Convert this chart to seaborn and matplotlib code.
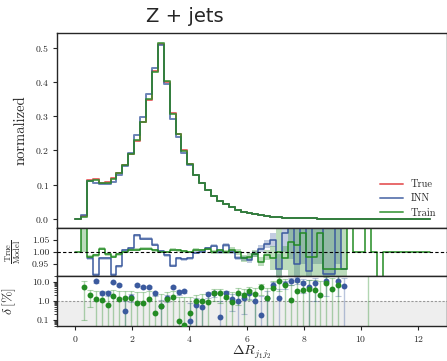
import numpy as np
import pandas as pd
import matplotlib
matplotlib.use('Agg')
import matplotlib.pyplot as plt
import seaborn as sns
from matplotlib.ticker import FixedLocator, FormatStrFormatter, NullFormatter


# Data (60 bins between 0 and 12.4)

nan = np.nan
edges = np.linspace(0, 12.4, 61)

true_vals = [0, 0.008, 0.112, 0.117, 0.106, 0.107, 0.120, 0.135, 0.158, 0.190,
             0.228, 0.283, 0.348, 0.432, 0.512, 0.400, 0.308, 0.248, 0.200, 0.160,
             0.128, 0.106, 0.084, 0.067, 0.053, 0.042, 0.033, 0.026, 0.021, 0.016,
             0.013, 0.010, 0.007, 0.005, 0.004, 0.003, 0.0025, 0.002, 0.0015, 0.001,
             0.0008, 0.0006, 0.0004, 0.0003, 0.0002, 0.00015, 0.0001, 0.00005, 0, 0,
             0, 0, 0, 0, 0, 0, 0, 0, 0, 0]
inn_vals = [0, 0.012, 0.110, 0.104, 0.102, 0.103, 0.108, 0.127, 0.155, 0.193,
            0.245, 0.298, 0.364, 0.440, 0.507, 0.395, 0.293, 0.240, 0.193, 0.158,
            0.127, 0.105, 0.084, 0.067, 0.053, 0.042, 0.033, 0.026, 0.021, 0.016,
            0.013, 0.010, 0.007, 0.005, 0.004, 0.003, 0.0025, 0.002, 0.0015, 0.001,
            0.0008, 0.0006, 0.0004, 0.0003, 0.0002, 0.00015, 0.0001, 0.00005, 0, 0,
            0, 0, 0, 0, 0, 0, 0, 0, 0, 0]
train_vals = [0, 0.004, 0.111, 0.113, 0.106, 0.106, 0.115, 0.133, 0.156, 0.188,
              0.229, 0.283, 0.350, 0.430, 0.514, 0.403, 0.305, 0.247, 0.199, 0.160,
              0.128, 0.106, 0.084, 0.067, 0.053, 0.042, 0.033, 0.026, 0.021, 0.016,
              0.013, 0.010, 0.007, 0.005, 0.004, 0.003, 0.0025, 0.002, 0.0015, 0.001,
              0.0008, 0.0006, 0.0004, 0.0003, 0.0002, 0.00015, 0.0001, 0.00005, 0, 0,
              0, 0, 0, 0, 0, 0, 0, 0, 0, 0]

ratio_inn = [nan, nan, 0.973, 0.905, 0.973, 0.973, 0.905, 0.94, 1.007, 1.016,
             1.07, 1.055, 1.055, 1.03, 1.003, 0.987, 0.943, 0.973, 0.97, 0.973,
             0.997, 1.0, 1.016, 1.027, 1.0, 1.03, 1.0, 0.975, 0.973, 0.966,
             0.993, 1.014, 1.034, 1.05, 0.93, 1.08, 1.12, 0.95, 1.15, 0.92,
             1.15, 1.15, 0.91, 0.91, 1.15, 0.93, nan, nan, nan, nan,
             nan, nan, nan, nan, nan, nan, nan, nan, nan, nan]
ratio_inn_err = [nan, nan, 0.006, 0.006, 0.006, 0.006, 0.006, 0.006, 0.006, 0.006,
                 0.006, 0.006, 0.006, 0.006, 0.006, 0.006, 0.006, 0.006, 0.006, 0.006,
                 0.006, 0.006, 0.006, 0.007, 0.007, 0.008, 0.008, 0.009, 0.010, 0.012,
                 0.013, 0.015, 0.018, 0.03, 0.06, 0.08, 0.15, 0.15, 0.2, 0.2,
                 0.2, 0.2, 0.2, 0.2, 0.2, 0.2, nan, nan, nan, nan,
                 nan, nan, nan, nan, nan, nan, nan, nan, nan, nan]
ratio_train = [1.0, 1.3, 0.98, 0.987, 1.014, 0.99, 0.98, 0.99, 1.0, 1.01,
               1.01, 1.013, 1.013, 1.007, 1.0, 1.0, 1.01, 1.007, 1.003, 1.0,
               1.01, 1.007, 1.013, 1.0, 1.007, 1.0, 1.01, 1.0, 0.973, 0.98,
               0.993, 0.96, 0.987, 0.973, 1.0, 0.973, 1.04, 1.03, 1.08, 0.98,
               0.98, 1.08, 0.93, 0.93, 0.93, 0.93, 1.3, 1.0, 1.0, 1.3,
               1.0, 0.8, 1.0, 1.0, 1.0, 1.0, 1.0, 1.0, 1.0, 1.0]
ratio_train_err = [0, 0.3, 0.006, 0.006, 0.006, 0.006, 0.006, 0.006, 0.006, 0.006,
                   0.006, 0.006, 0.006, 0.006, 0.006, 0.006, 0.006, 0.006, 0.006, 0.006,
                   0.006, 0.006, 0.006, 0.007, 0.007, 0.01, 0.01, 0.012, 0.013, 0.015,
                   0.015, 0.02, 0.02, 0.05, 0.2, 0.05, 0.2, 0.2, 0.2, 0.2,
                   0.2, 0.2, 0.2, 0.2, 0.2, 0.2, 0, 0, 0, 0,
                   0, 0, 0, 0, 0, 0, 0, 0, 0, 0]

delta_inn = [nan, nan, nan, 11, 2.7, 2.6, 9.6, 7.2, 0.3, 1.6,
             6.9, 5.4, 5.3, 2.5, 0.55, 1.5, 5.6, 2.9, 3.2, 0.085,
             0.6, 0.48, 2.3, 2.6, 0.145, 2.5, 1.3, 1.0, 1.4, 2.6,
             1.0, 0.18, 1.5, 7.2, 1.5, 7.8, 11.8, 12.8, 8.5, 5.6,
             9.0, nan, 10.8, nan, 11.8, 6.1, nan, nan, nan, nan,
             nan, nan, nan, nan, nan, nan, nan, nan, nan, nan]
delta_inn_err = [nan, nan, nan, 1.5, 0.7, 0.7, 1.0, 0.8, 0.7, 0.7,
                 0.8, 0.7, 0.7, 0.6, 0.6, 0.6, 0.7, 0.7, 0.7, 0.7,
                 0.8, 0.8, 0.8, 0.9, 0.9, 1.0, 1.0, 1.1, 1.2, 1.3,
                 1.5, 1.7, 2.0, 2.5, 3.0, 3.5, 4.5, 5.0, 6.0, 7.0,
                 8.0, nan, 9.0, nan, 10.0, 10.0, nan, nan, nan, nan,
                 nan, nan, nan, nan, nan, nan, nan, nan, nan, nan]
delta_train = [nan, 5.6, 2.1, 1.35, 1.1, 0.62, 1.85, 1.35, 1.5, 1.5,
               0.82, 0.82, 1.25, 0.22, 0.55, 1.3, 1.7, 0.085, 0.057, 0.24,
               1.0, 1.05, 0.88, 2.6, 2.5, 1.7, 0.88, 2.6, 2.1, 3.4,
               2.3, 5.2, 1.4, 4.8, 11.5, 7.0, 1.2, 3.2, 4.0, 4.4,
               4.0, 2.1, 8.5, 4.4, 7.2, nan, nan, nan, nan, 60,
               nan, nan, nan, nan, nan, nan, nan, nan, nan, nan]
delta_train_err = [nan, 5.5, 1.6, 2.0, 2.0, 2.2, 2.0, 2.0, 2.0, 2.0,
                   2.0, 2.0, 2.0, 1.8, 1.8, 1.8, 1.8, 1.6, 1.5, 1.4,
                   1.1, 1.3, 1.6, 1.6, 1.7, 1.8, 2.0, 2.0, 2.1, 2.2,
                   2.4, 3.0, 3.5, 7.0, 8.0, 8.0, 6.0, 6.5, 7.0, 8.0,
                   9.0, 10.0, 11.0, 12.0, 13.0, nan, nan, nan, nan, 100,
                   nan, nan, nan, nan, nan, nan, nan, nan, nan, nan]

labels = ['True', 'INN', 'Train']
colors = {'True': '#e0393b', 'INN': '#3b5a9e', 'Train': '#238b23'}


sns.set_style('ticks')
plt.rcParams['font.family'] = 'serif'
plt.rcParams['font.serif'] = ['cmr10', 'DejaVu Serif']
plt.rcParams['mathtext.fontset'] = 'cm'
plt.rcParams['axes.formatter.use_mathtext'] = True
plt.rcParams['axes.unicode_minus'] = False

fig = plt.figure(figsize=(4.47, 3.61), dpi=100)
ax = fig.add_axes([0.1275, 0.3684, 0.8725, 0.5402])
axr = fig.add_axes([0.1275, 0.2355, 0.8725, 0.1329], sharex=ax)
axd = fig.add_axes([0.1275, 0.0970, 0.8725, 0.1385], sharex=ax)

# main histogram panel
frames = []
for name, vals in zip(labels, [true_vals, inn_vals, train_vals]):
    frames.append(pd.DataFrame({'x': edges,
                                'y': list(vals) + [vals[-1]],
                                'model': name}))
df = pd.concat(frames, ignore_index=True)
sns.lineplot(data=df, x='x', y='y', hue='model', palette=colors,
             estimator=None, drawstyle='steps-post', lw=1.4, alpha=0.75, ax=ax)
ax.legend(loc='lower right', frameon=False, fontsize=7.5, handlelength=2.2,
          labelspacing=0.45, borderaxespad=0.6)
ax.set_xlim(-0.63, 13.0)
ax.set_ylim(-0.027, 0.543)
ax.set_xlabel('')
ax.set_ylabel('normalized', fontsize=10.5)
ax.yaxis.set_label_coords(-0.075, 0.5)
ax.tick_params(axis='x', bottom=False, labelbottom=False)

# ratio panel
for name, r, e in [('INN', ratio_inn, ratio_inn_err),
                   ('Train', ratio_train, ratio_train_err)]:
    r = np.array(r + [r[-1]], dtype=float)
    e = np.array(e + [e[-1]], dtype=float)
    axr.fill_between(edges, r - e, r + e, step='post', color=colors[name],
                     alpha=0.3, lw=0)
    axr.step(edges, r, where='post', color=colors[name], lw=1.1)
axr.axhline(1.0, color='black', ls=(0, (3, 2)), lw=0.8, zorder=10)
axr.set_ylim(0.9, 1.1)
axr.yaxis.set_major_locator(FixedLocator([0.95, 1.0, 1.05]))
axr.yaxis.set_major_formatter(FormatStrFormatter('%.2f'))
axr.set_ylabel(r'$\dfrac{\mathrm{True}}{\mathrm{Model}}$', fontsize=6)
axr.yaxis.set_label_coords(-0.088, 0.5)
axr.tick_params(axis='x', bottom=False, labelbottom=False)

# relative deviation panel
centers = 0.5 * (edges[1:] + edges[:-1])
axd.set_yscale('log')
axd.axhspan(0.01, 1.0, color='#eeeeee', lw=0, zorder=0)
axd.axhline(1.0, color='#999999', ls=(0, (2, 1.5)), lw=0.8, zorder=1)
for name, d, e in [('INN', delta_inn, delta_inn_err),
                   ('Train', delta_train, delta_train_err)]:
    axd.errorbar(centers, d, yerr=e, fmt='none', ecolor=colors[name],
                 alpha=0.35, capsize=2, elinewidth=1.0, capthick=0.8, zorder=2)
    sns.scatterplot(x=centers, y=d, color=colors[name], s=18, linewidth=0,
                    zorder=3, ax=axd)
axd.set_ylim(0.048, 21)
axd.yaxis.set_major_locator(FixedLocator([0.1, 1.0, 10.0]))
axd.yaxis.set_major_formatter(FormatStrFormatter('%.1f'))
axd.yaxis.set_minor_formatter(NullFormatter())
axd.set_ylabel(r'$\delta\,[\%]$', fontsize=10)
axd.yaxis.set_label_coords(-0.1, 0.5)
axd.set_xticks([0, 2, 4, 6, 8, 10, 12])
axd.set_xlabel(r'$\Delta R_{j_1 j_2}$', fontsize=10, labelpad=0)

for a in [ax, axr, axd]:
    a.tick_params(labelsize=7, length=3, width=0.8, direction='out', pad=2.5)
    for s in a.spines.values():
        s.set_linewidth(1.0)

fig.text(0.414, 0.953, 'Z + jets', ha='center', va='center', fontsize=14,
         family='DejaVu Sans')

fig.savefig('out.png', dpi=100)
